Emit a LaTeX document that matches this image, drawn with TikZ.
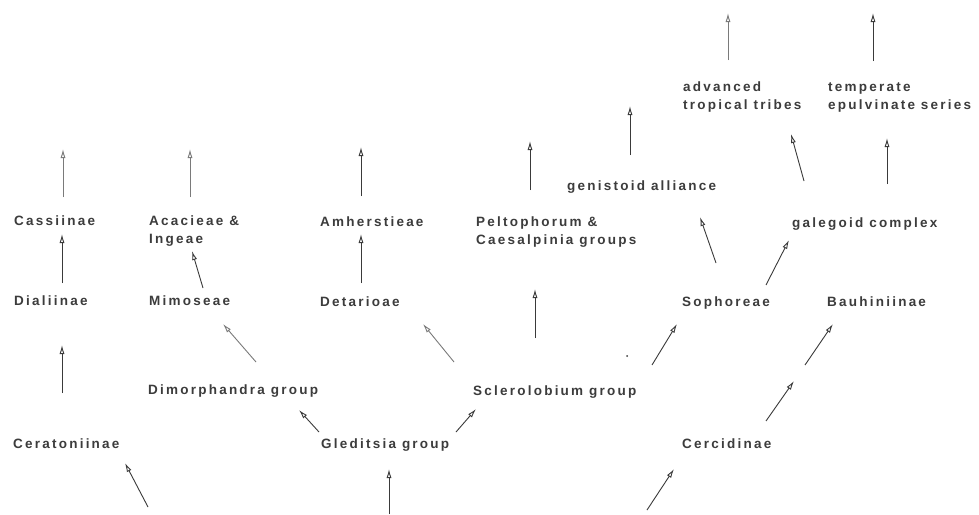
\documentclass[tikz,border=0pt]{standalone}
\usepackage{fontspec}
\setmainfont{Liberation Sans}[LetterSpace=16.5]
\usetikzlibrary{arrows.meta}
\definecolor{ink}{HTML}{3C3C3C}
\definecolor{arr}{HTML}{3A3A3A}
\definecolor{arrlight}{HTML}{7A7A7A}
\tikzset{
  lbl/.style={anchor=base west, inner sep=0pt, text=ink, font=\fontsize{13.5}{18}\selectfont\bfseries, align=left},
  arrow/.style={draw=arr, line width=0.9pt, -{Latex[open,length=9pt,width=5pt,line width=0.9pt]}},
  arrowlight/.style={arrow, draw=arrlight}
}
\begin{document}
\begin{tikzpicture}[x=1pt,y=-1pt]
\useasboundingbox[fill=white] (0,0) rectangle (979,514);
% labels (two-line nodes are placed by the baseline of their last line)
\node[lbl] (cass) at (14,225) {Cassiinae};
\node[lbl] (acac) at (149,243) {Acacieae \&\\Ingeae};
\node[lbl] (amh) at (320,226) {Amherstieae};
\node[lbl] (pelt) at (476,244) {Peltophorum \&\\Caesalpinia groups};
\node[lbl] (gen) at (567,190) {genistoid alliance};
\node[lbl] (adv) at (683,109) {advanced\\tropical tribes};
\node[lbl] (temp) at (828,109) {temperate\\epulvinate series};
\node[lbl] (gal) at (792,227) {galegoid complex};
\node[lbl] (dial) at (14,305) {Dialiinae};
\node[lbl] (mim) at (149,305) {Mimoseae};
\node[lbl] (det) at (320,306) {Detarioae};
\node[lbl] (soph) at (682,306) {Sophoreae};
\node[lbl] (bauh) at (827,306) {Bauhiniinae};
\node[lbl] (dim) at (148,394) {Dimorphandra group};
\node[lbl] (scl) at (473,395) {Sclerolobium group};
\node[lbl] (cer) at (13,448) {Ceratoniinae};
\node[lbl] (gle) at (321,448) {Gleditsia group};
\node[lbl] (cerc) at (682,448) {Cercidinae};
% arrow end points
\coordinate (a1s) at (63,197);   \coordinate (a1e) at (63,149);
\coordinate (a2s) at (62,283);   \coordinate (a2e) at (62,234);
\coordinate (a3s) at (62,393);   \coordinate (a3e) at (62,345);
\coordinate (a4s) at (190,197);  \coordinate (a4e) at (190,149);
\coordinate (a5s) at (203,288);  \coordinate (a5e) at (192,251);
\coordinate (a6s) at (256,362);  \coordinate (a6e) at (223,324);
\coordinate (a7s) at (361,196);  \coordinate (a7e) at (361,147);
\coordinate (a8s) at (361,283);  \coordinate (a8e) at (361,234);
\coordinate (a9s) at (454,362);  \coordinate (a9e) at (423,324);
\coordinate (a10s) at (319,432); \coordinate (a10e) at (299,410);
\coordinate (a11s) at (456,432); \coordinate (a11e) at (476,409);
\coordinate (a12s) at (148,507); \coordinate (a12e) at (125,463);
\coordinate (a13s) at (389,514); \coordinate (a13e) at (389,469);
\coordinate (a14s) at (647,510); \coordinate (a14e) at (674,469);
\coordinate (a15s) at (766,421); \coordinate (a15e) at (794,381);
\coordinate (a16s) at (805,365); \coordinate (a16e) at (833,324);
\coordinate (a17s) at (652,365); \coordinate (a17e) at (677,324);
\coordinate (a18s) at (535,338); \coordinate (a18e) at (535,289);
\coordinate (a19s) at (530,190); \coordinate (a19e) at (530,141);
\coordinate (a20s) at (716,263); \coordinate (a20e) at (700,217);
\coordinate (a21s) at (766,285); \coordinate (a21e) at (789,240);
\coordinate (a22s) at (804,181); \coordinate (a22e) at (791,134);
\coordinate (a23s) at (887,184); \coordinate (a23e) at (887,138);
\coordinate (a24s) at (728,60);  \coordinate (a24e) at (728,13);
\coordinate (a25s) at (873,61);  \coordinate (a25e) at (873,13);
\coordinate (a26s) at (630,155); \coordinate (a26e) at (630,106);
% arrows
\draw[arrowlight] (a1s) -- (a1e);
\draw[arrow] (a2s) -- (a2e);
\draw[arrow] (a3s) -- (a3e);
\draw[arrowlight] (a4s) -- (a4e);
\draw[arrow] (a5s) -- (a5e);
\draw[arrowlight] (a6s) -- (a6e);
\draw[arrow] (a7s) -- (a7e);
\draw[arrow] (a8s) -- (a8e);
\draw[arrowlight] (a9s) -- (a9e);
\draw[arrow] (a10s) -- (a10e);
\draw[arrow] (a11s) -- (a11e);
\draw[arrow] (a12s) -- (a12e);
\draw[arrow] (a13s) -- (a13e);
\draw[arrow] (a14s) -- (a14e);
\draw[arrow] (a15s) -- (a15e);
\draw[arrow] (a16s) -- (a16e);
\draw[arrow] (a17s) -- (a17e);
\draw[arrow] (a18s) -- (a18e);
\draw[arrow] (a19s) -- (a19e);
\draw[arrow] (a20s) -- (a20e);
\draw[arrow] (a21s) -- (a21e);
\draw[arrow] (a22s) -- (a22e);
\draw[arrow] (a23s) -- (a23e);
\draw[arrowlight] (a24s) -- (a24e);
\draw[arrow] (a25s) -- (a25e);
\draw[arrow] (a26s) -- (a26e);
\coordinate (speck) at (627,356);
\fill[arr] (speck) circle (1pt);
\end{tikzpicture}
\end{document}
